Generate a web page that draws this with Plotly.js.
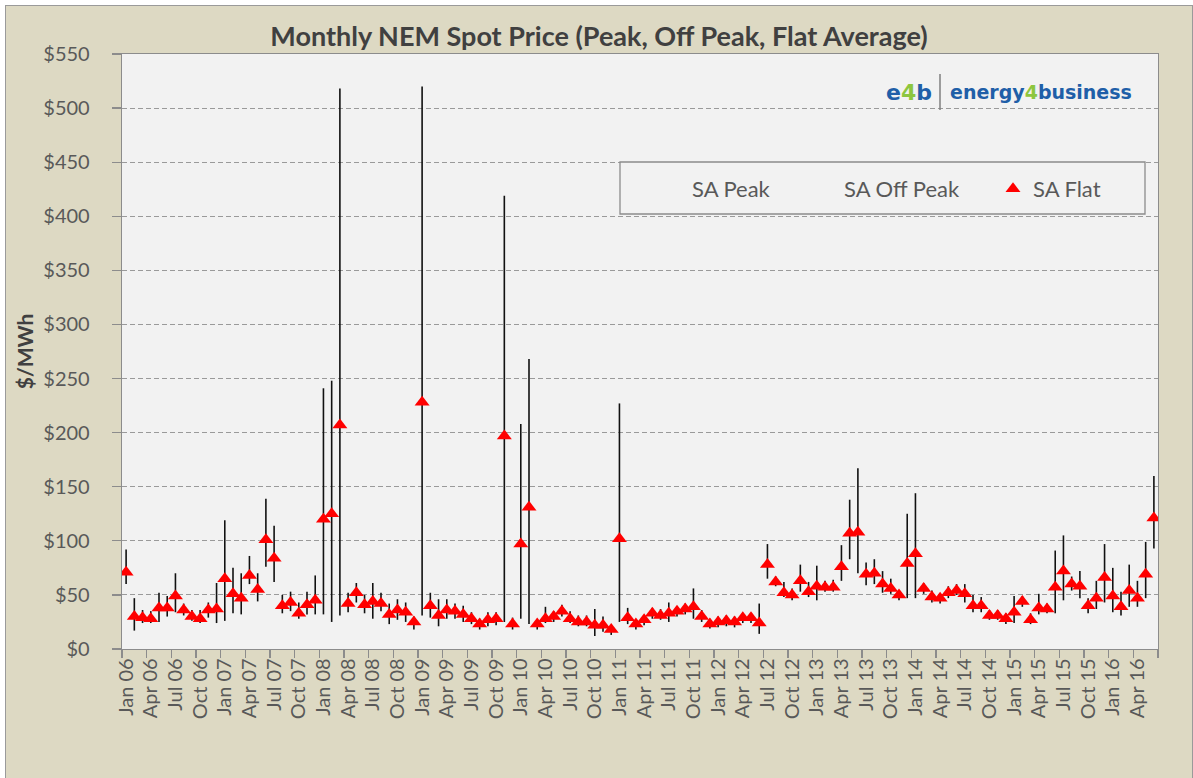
<!DOCTYPE html>
<html>
<head>
<meta charset="utf-8">
<script src="https://cdn.plot.ly/plotly-3.0.1.min.js"></script>
<style>
  html, body { margin: 0; padding: 0; background: #ffffff; overflow: hidden; }
  #frame { position: absolute; left: 5px; top: 5px; width: 1186px; height: 790px;
           border: 1px solid #9a9a9a; background: #DDD9C3; }
  #chart { width: 1186px; height: 790px; }
</style>
</head>
<body>
<div id="frame"><div id="chart"></div></div>
<script>
// ---- categories ----
const monthNames = ['Jan','Feb','Mar','Apr','May','Jun','Jul','Aug','Sep','Oct','Nov','Dec'];
const years = ['06','07','08','09','10','11','12','13','14','15','16'];
const months = [];
years.forEach(function (yy) {
  monthNames.forEach(function (m) { months.push(m + ' ' + yy); });
});
months.length = 126; // Jan 06 .. Jun 16

// ---- series values ($/MWh) ----
const saPeak = [
  92, 47, 36, 35, 52, 49, 70, 42, 36, 36, 43, 61,          // 2006
  119, 75, 70, 86, 70, 139, 114, 50, 53, 43, 53, 68,       // 2007
  241, 248, 518, 52, 61, 50, 61, 52, 42, 46, 43, 30,       // 2008
  520, 52, 46, 46, 42, 40, 34, 28, 34, 34, 419, 29,        // 2009
  208, 268, 27, 39, 35, 41, 35, 31, 31, 37, 30, 22,        // 2010
  227, 38, 27, 31, 38, 37, 43, 39, 42, 56, 36, 28,         // 2011
  30, 31, 30, 33, 33, 42, 97, 67, 62, 56, 78, 62,          // 2012
  77, 63, 64, 96, 138, 167, 80, 83, 72, 65, 54, 125,       // 2013
  144, 61, 54, 51, 58, 60, 60, 50, 48, 36, 36, 33,         // 2014
  49, 49, 33, 51, 42, 91, 105, 67, 72, 47, 63, 97,         // 2015
  75, 53, 78, 63, 99, 160                                  // 2016
];
const saOffPeak = [
  60, 17, 24, 24, 25, 30, 34, 31, 26, 24, 29, 24,
  26, 33, 32, 60, 44, 76, 62, 33, 35, 28, 32, 32,
  32, 25, 31, 34, 43, 33, 28, 35, 23, 27, 25, 18,
  31, 29, 21, 28, 28, 25, 23, 18, 21, 22, 25, 18,
  28, 23, 18, 24, 25, 30, 24, 21, 21, 12, 16, 13,
  25, 23, 18, 22, 28, 27, 25, 30, 32, 28, 25, 19,
  20, 21, 20, 24, 24, 14, 65, 58, 48, 45, 53, 48,
  45, 53, 53, 63, 83, 70, 59, 60, 52, 51, 45, 47,
  47, 51, 43, 42, 47, 50, 43, 34, 34, 27, 27, 23,
  24, 39, 23, 32, 33, 33, 45, 54, 47, 33, 37, 43,
  34, 31, 39, 39, 47, 93
];
const saFlat = [
  71, 30, 29, 28, 38, 38, 49, 36, 30, 28, 36, 37,
  65, 51, 47, 68, 55, 101, 84, 40, 43, 33, 41, 45,
  120, 125, 207, 42, 52, 41, 44, 42, 32, 36, 34, 25,
  228, 40, 31, 36, 35, 32, 28, 23, 27, 28, 197, 23,
  97, 131, 23, 28, 30, 35, 28, 25, 25, 22, 22, 18,
  102, 29, 23, 27, 33, 31, 33, 35, 37, 39, 30, 23,
  25, 26, 25, 29, 29, 24, 78, 62, 52, 50, 63, 53,
  58, 57, 57, 76, 107, 108, 69, 70, 60, 56, 50, 79,
  88, 56, 48, 47, 52, 54, 51, 40, 40, 31, 31, 28,
  34, 44, 27, 38, 37, 57, 72, 60, 58, 40, 47, 66,
  49, 39, 54, 47, 69, 121
];

// ---- high-low segments built from the Peak / Off Peak arrays ----
const segX = [], segY = [];
months.forEach(function (m, i) {
  segX.push(m, m, null);
  segY.push(saOffPeak[i], saPeak[i], null);
});

const textCol = '#595959';
const font = 'Lato, "Open Sans", sans-serif';

const traces = [
  { type: 'scatter', mode: 'lines', x: segX, y: segY, showlegend: false,
    line: { color: '#111111', width: 1.6 }, hoverinfo: 'skip', connectgaps: false },
  { type: 'scatter', mode: 'markers', name: 'SA Peak', x: months, y: saPeak, legend: 'legend',
    marker: { color: 'rgba(0,0,0,0)', size: 6 } },
  { type: 'scatter', mode: 'markers', name: 'SA Off Peak', x: months, y: saOffPeak, legend: 'legend2',
    marker: { color: 'rgba(0,0,0,0)', size: 6 } },
  { type: 'scatter', mode: 'markers', name: 'SA Flat', x: months, y: saFlat, legend: 'legend3',
    marker: { symbol: 'triangle-up', color: '#FF0000', size: 13 } }
];

const W = 1186, H = 790;
function px(xp) { return (xp - 122) / 1036; }     // page x -> paper x
function py(yp) { return (649 - yp) / 595; }      // page y -> paper y

function legendAt(xPage) {
  return {
    orientation: 'h', x: px(xPage), y: py(168), xanchor: 'left', yanchor: 'top',
    bgcolor: 'rgba(0,0,0,0)', borderwidth: 0,
    font: { family: font, size: 22, color: textCol }
  };
}

const layout = {
  width: W, height: H,
  margin: { l: 116, r: 34, t: 48, b: 147 },
  paper_bgcolor: '#DDD9C3',
  plot_bgcolor: '#F2F2F2',
  font: { family: font, color: textCol },
  title: { text: 'Monthly NEM Spot Price (Peak, Off Peak, Flat Average)',
           font: { family: font, size: 27, color: '#404040', weight: 'bold' },
           x: 0.5, xref: 'container', y: 1 - 31 / H, yref: 'container', yanchor: 'middle' },
  xaxis: {
    type: 'category', categoryorder: 'array', categoryarray: months,
    range: [-0.5, 125.5],
    tickmode: 'linear', tick0: 0, dtick: 3,
    tickson: 'boundaries', ticks: 'outside', ticklen: 8, tickcolor: '#8c8c8c', tickwidth: 1.3,
    tickangle: -90, tickfont: { family: font, size: 20, color: textCol },
    showgrid: false, showline: true, linecolor: '#8c8c8c', linewidth: 1.3, mirror: true,
    zeroline: false, automargin: false
  },
  yaxis: {
    range: [0, 550], dtick: 50, tick0: 0, tickprefix: '$',
    ticks: 'outside', ticklen: 9, tickcolor: '#8c8c8c', tickwidth: 1.3,
    ticklabelstandoff: 18,
    tickfont: { family: font, size: 20, color: textCol },
    showgrid: true, gridcolor: '#9a9a9a', griddash: '5px,3px', gridwidth: 1.1,
    showline: true, linecolor: '#8c8c8c', linewidth: 1.3, mirror: true, zeroline: false,
    automargin: true,
    title: { text: '$/MWh', font: { family: font, size: 21, color: '#404040', weight: 'bold' }, standoff: 4 }
  },
  legend: legendAt(652),
  legend2: legendAt(804),
  legend3: legendAt(993),
  shapes: [
    { type: 'rect', xref: 'paper', yref: 'paper', x0: px(620), x1: px(1145), y0: py(214), y1: py(162),
      fillcolor: '#F2F2F2', line: { color: '#8c8c8c', width: 1.3 }, layer: 'above' },
    { type: 'line', xref: 'paper', yref: 'paper', x0: px(940), x1: px(940), y0: py(110), y1: py(74),
      line: { color: '#7f7f7f', width: 1.5 } }
  ],
  annotations: [
    { xref: 'paper', yref: 'paper', x: px(884), y: py(92), xanchor: 'left', yanchor: 'middle',
      showarrow: false,
      text: '<b><span style="color:#1F5FA8">e</span><span style="color:#8DC63F">4</span><span style="color:#1F5FA8">b</span></b>',
      font: { family: '"DejaVu Sans", sans-serif', size: 22 } },
    { xref: 'paper', yref: 'paper', x: px(948), y: py(92), xanchor: 'left', yanchor: 'middle',
      showarrow: false,
      text: '<b><span style="color:#1F5FA8">energy</span><span style="color:#8DC63F">4</span><span style="color:#1F5FA8">business</span></b>',
      font: { family: '"DejaVu Sans", sans-serif', size: 19 } }
  ]
};

Plotly.newPlot('chart', traces, layout, { displayModeBar: false, staticPlot: true });
</script>
</body>
</html>
